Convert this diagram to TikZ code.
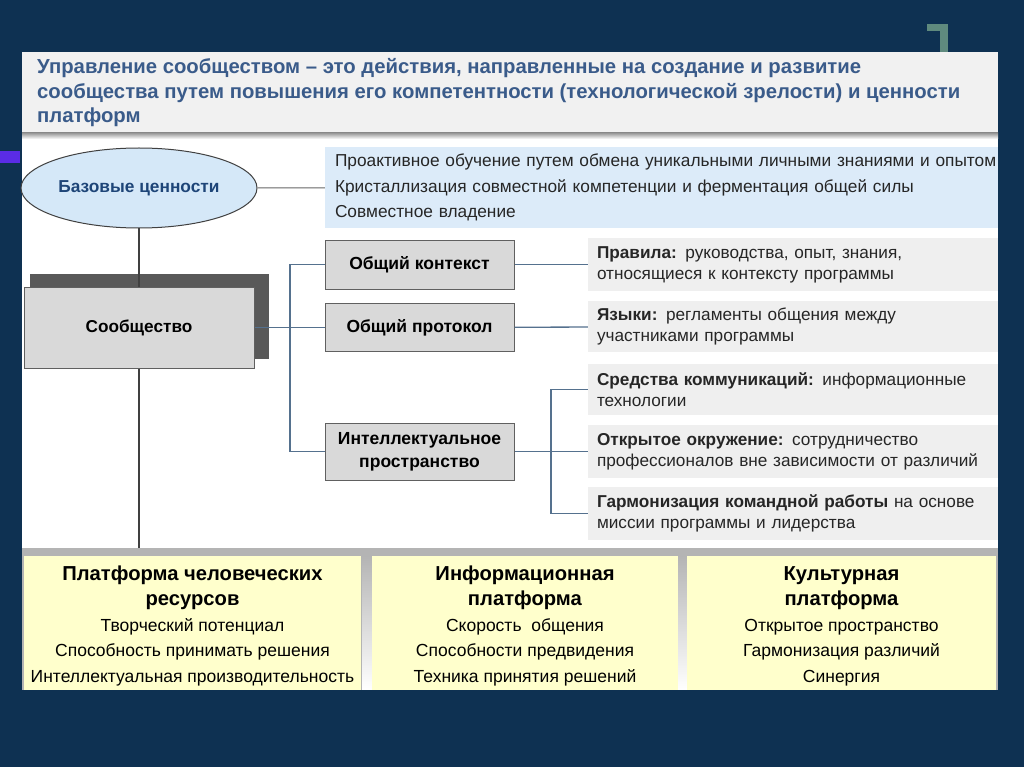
\documentclass[tikz,border=0pt]{standalone}
\usepackage{fontspec}
\setmainfont{Liberation Sans}
\usepackage{tikz}
\usetikzlibrary{shapes.geometric}
\usetikzlibrary{positioning}
\usetikzlibrary{calc}

\definecolor{navybg}{HTML}{0E3152}
\definecolor{stripviolet}{HTML}{5A2CE6}
\definecolor{bracketgreen}{HTML}{5F8A7E}
\definecolor{titlegray}{HTML}{F1F1F1}
\definecolor{titleblue}{HTML}{3A5B8A}
\definecolor{ellblue}{HTML}{D5E8F8}
\definecolor{elltext}{HTML}{1E4578}
\definecolor{valblue}{HTML}{DCEBF9}
\definecolor{boxgray}{HTML}{D9D9D9}
\definecolor{shadowgray}{HTML}{595959}
\definecolor{notegray}{HTML}{EFEFEF}
\definecolor{platyellow}{HTML}{FFFFCC}
\definecolor{platgray}{HTML}{B4B4B4}
\definecolor{busline}{HTML}{55718E}

\tikzset{
  keybox/.style={draw=gray!75!black, fill=boxgray, line width=1pt, align=center,
    font=\fontsize{17.5}{23}\selectfont\bfseries},
  notebox/.style={fill=notegray, minimum width=410, minimum height=53,
    text width=392, inner xsep=9, align=left, text=black!85,
    font=\fontsize{17.2}{21}\selectfont},
  platbox/.style={fill=platyellow, minimum height=140, align=center,
    font=\fontsize{17.5}{25.5}\selectfont},
  busconn/.style={busline, line width=1.3pt},
  mainconn/.style={black!75, line width=1.2pt}
}
\newcommand{\plathead}[1]{\textbf{\fontsize{20.2}{25.5}\selectfont #1}\strut}

\begin{document}
\begin{tikzpicture}[x=1pt,y=-1pt]
  \useasboundingbox (0,0) rectangle (1024,767);
  \fill[navybg] (0,0) rectangle (1024,767);
  \fill[stripviolet] (0,151) rectangle (20,163);
  \fill[bracketgreen] (927,24) rectangle (948,31);
  \fill[bracketgreen] (940,24) rectangle (948,52);

  % panel and title bar
  \fill[white] (22,52) rectangle (998,690);
  \fill[titlegray] (22,52) rectangle (998,133);
  \shade[top color=gray!80, bottom color=white] (22,133) rectangle (998,139);
  \node[anchor=west, align=left, inner sep=0, text=titleblue,
    font=\fontsize{20.3}{24.5}\selectfont\bfseries] (title) at (37,93)
    {Управление сообществом – это действия, направленные на создание и развитие\\
     сообщества путем повышения его компетентности (технологической зрелости) и ценности\\
     платформ};

  % base values
  \node[ellipse, draw=black!75, line width=1pt, fill=ellblue, minimum width=236,
    minimum height=80, inner sep=0, text=elltext,
    font=\fontsize{17.3}{20}\selectfont\bfseries] (base) at (139,188) {Базовые ценности};
  \node[fill=valblue, minimum width=673, minimum height=81, text width=653,
    inner xsep=10, align=left, text=black!85,
    font=\fontsize{17.3}{25.5}\selectfont] (values) at (661.5,187.5)
    {\mbox{Проактивное обучение путем обмена уникальными личными знаниями и опытом}\\
     \mbox{Кристаллизация совместной компетенции и ферментация общей силы}\\
     Совместное владение};
  \draw[black!60, line width=1pt] (base) -- (values);

  % community
  \fill[shadowgray] (30,274) rectangle (269,359);
  \node[keybox, minimum width=230, minimum height=81,
    font=\fontsize{17.2}{20}\selectfont\bfseries] (comm) at (139,327.5) {Сообщество};
  \draw[mainconn] (base) -- (comm);
  \coordinate (platformtop) at (139,548);
  \draw[mainconn] (comm) -- (platformtop);

  \node[keybox, minimum width=189, minimum height=49] (ctx) at (419.5,264.5) {Общий контекст};
  \node[keybox, minimum width=189, minimum height=48] (proto) at (419.5,327.5) {Общий протокол};
  \node[keybox, minimum width=189, minimum height=57] (space) at (419.5,451.5)
    {Интеллектуальное\\пространство};

  \coordinate (busa) at (290,0);
  \draw[busconn] (comm) -- (proto);
  \draw[busconn] (ctx.west) -- (ctx.west -| busa) |- (space.west);

  % notes
  \node[notebox] (rules) at (793,264.5)
    {\textbf{Правила:} руководства, опыт, знания,\\относящиеся к контексту программы};
  \node[notebox, minimum height=51] (langs) at (793,326.5)
    {\textbf{Языки:} регламенты общения между\\участниками программы};
  \node[notebox, minimum height=51] (media) at (793,389.5)
    {\textbf{Средства коммуникаций:} информационные\\технологии};
  \node[notebox] (openenv) at (793,451.5)
    {\textbf{Открытое окружение:} сотрудничество\\профессионалов вне зависимости от различий};
  \node[notebox] (harmony) at (793,513.5)
    {\textbf{Гармонизация командной работы} на основе\\миссии программы и лидерства};

  \draw[busconn] (ctx) -- (rules);
  \draw[busconn] (proto) -- (langs);
  \draw[busconn] (space) -- (openenv);
  \coordinate (busb) at (551,0);
  \draw[busconn] (media.west) -- (media.west -| busb) |- (harmony.west);

  % platforms
  \fill[platgray] (22,548) rectangle (998,690);
  \shade[top color=platgray, bottom color=white] (362,556) rectangle (372,690);
  \shade[top color=platgray, bottom color=white] (678,556) rectangle (687,690);
  \node[platbox, minimum width=337] (hr) at (192.5,626)
    {\plathead{Платформа человеческих}\\\plathead{ресурсов}\\
     Творческий потенциал\\Способность принимать решения\\Интеллектуальная производительность\strut};
  \node[platbox, minimum width=306] (info) at (525,626)
    {\plathead{Информационная}\\\plathead{платформа}\\
     Скорость~ общения\\Способности предвидения\\Техника принятия решений\strut};
  \node[platbox, minimum width=309] (cult) at (841.5,626)
    {\plathead{Культурная}\\\plathead{платформа}\\
     Открытое пространство\\Гармонизация различий\\Синергия\strut};
  \fill[navybg] (0,690) rectangle (1024,767);
\end{tikzpicture}
\end{document}
